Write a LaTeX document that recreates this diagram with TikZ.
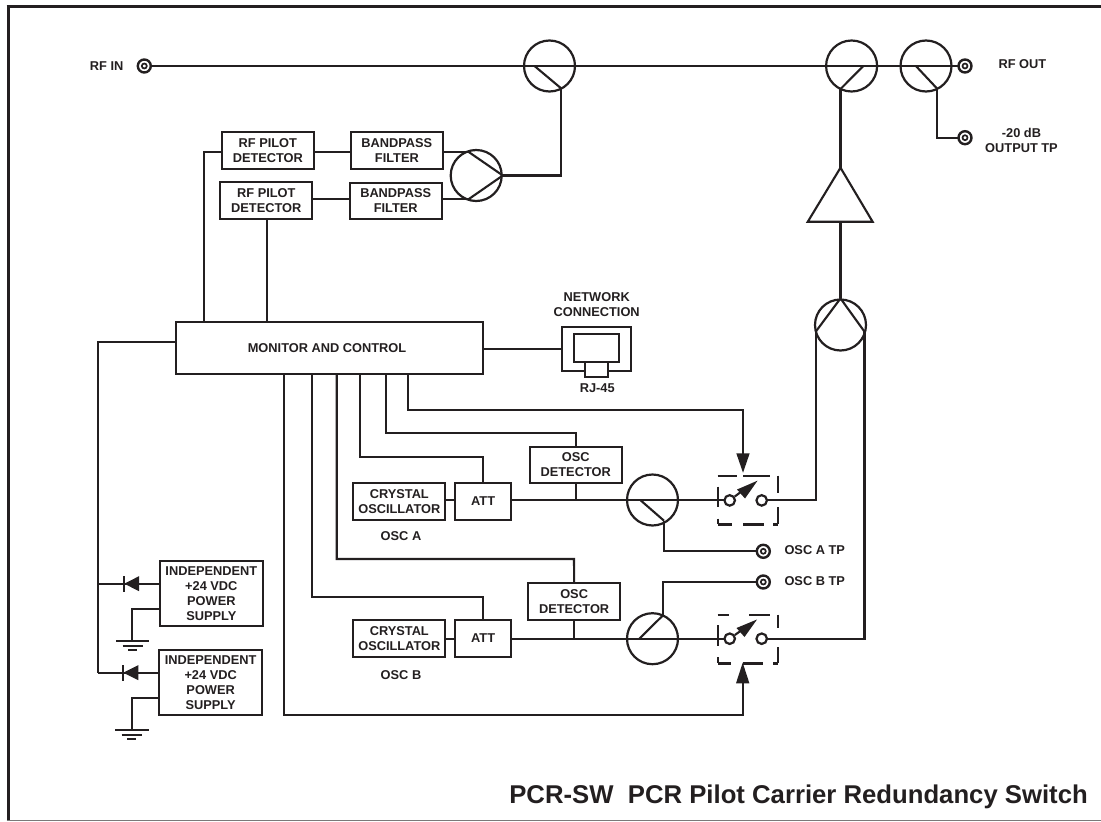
\documentclass[tikz,border=0pt]{standalone}
\usepackage{fontspec}
\setmainfont{Liberation Sans}
\tikzset{
  x=1pt,y=-1pt,
  wire/.style={line width=2.1pt,draw=ink,line join=miter},
  block/.style={draw=ink,line width=2.2pt,fill=white,inner sep=0pt,align=center,font=\fontsize{12.8}{15}\bfseries\selectfont,text=ink},
  lbl/.style={inner sep=0pt,align=center,font=\fontsize{12.8}{15}\bfseries\selectfont,text=ink},
  coupler/.style={circle,draw=ink,line width=2.2pt,minimum size=51pt,inner sep=0pt},
  port/.style={circle,draw=ink,line width=2.4pt,fill=white,minimum size=13pt,inner sep=0pt},
  portdot/.style={circle,draw=ink,line width=1.7pt,fill=white,minimum size=5pt,inner sep=0pt},
  contact/.style={circle,draw=ink,line width=2.2pt,fill=white,minimum size=10.5pt,inner sep=0pt},
  dashwire/.style={line width=2.4pt,draw=ink},
}
\definecolor{ink}{HTML}{231F20}
\newcommand{\rfport}[3]{\node[port] (#1) at (#2,#3) {};\node[portdot] at (#2,#3) {};}
\newcommand{\boxat}[6]{\node[block,minimum width=#4-#2,minimum height=#5-#3] (#1) at ({(#2+#4)/2},{(#3+#5)/2}) {#6};}
\begin{document}
\begin{tikzpicture}
\useasboundingbox (0,0) rectangle (1101,822);
\fill[white] (0,0) rectangle (1101,822);
\draw[ink,line width=3pt] (6.5,6.5) -- (1101,6.5);
\draw[ink,line width=3pt] (8,5) -- (8,821);
\draw[ink!60,line width=1.2pt] (6.5,820.8) -- (1101,820.8);

% couplers
\node[coupler] (c1) at (549.5,66) {};
\node[coupler] (c2) at (851.6,66) {};
\node[coupler] (c3) at (926,66) {};
\node[coupler] (c4) at (476.2,175.5) {};
\node[coupler] (c5) at (840.5,325) {};
\node[coupler] (ca) at (652.5,500) {};
\node[coupler] (cb) at (652.5,638.7) {};

% blocks
\boxat{p1}{222}{131.7}{313.7}{168.7}{RF PILOT\\DETECTOR}
\boxat{b1}{351}{131.7}{442.7}{168.7}{BANDPASS\\FILTER}
\boxat{p2}{220.3}{182.3}{312.3}{219.3}{RF PILOT\\DETECTOR}
\boxat{b2}{349.7}{182.6}{441.7}{219.3}{BANDPASS\\FILTER}
\boxat{mc}{176}{322}{483}{374}{\hspace{-5pt}MONITOR AND CONTROL}
\boxat{da}{529.7}{446.7}{621.7}{483}{OSC\\DETECTOR}
\boxat{db}{528.3}{583.3}{620}{620}{OSC\\DETECTOR}
\boxat{xa}{353.3}{482.7}{445.3}{520}{CRYSTAL\\OSCILLATOR}
\boxat{aa}{455}{482.7}{511.3}{520}{ATT}
\boxat{xb}{353.3}{620}{445.3}{657}{CRYSTAL\\OSCILLATOR}
\boxat{ab}{455}{620}{511.3}{657}{ATT}
\boxat{ps1}{159.7}{561}{263}{626.3}{INDEPENDENT\\+24 VDC\\POWER\\SUPPLY}
\boxat{ps2}{159}{650}{262.3}{715}{INDEPENDENT\\+24 VDC\\POWER\\SUPPLY}
\boxat{net}{562.3}{326.7}{630.7}{370.7}{}

% switch contacts
\coordinate (swa) at (729.7,500.4);
\coordinate (swb) at (729.7,638.7);

% RF path
\coordinate (rfs) at (144.3,66);
\coordinate (rfe) at (965,66);
\draw[wire] (rfs) -- (rfe);
\coordinate (c1d) at (561.3,88.5);
\coordinate (c2d) at (840.5,89);
\coordinate (c3d) at (937,88.5);
\draw[wire] (534.5,66) -- (c1d);
\draw[wire] (863.4,66) -- (c2d);
\draw[wire] (915.9,66) -- (c3d);
\coordinate (tp20c) at (965,137.7);
\draw[wire] (c3d) |- (tp20c);

% ports
\rfport{rfin}{144.3}{66}
\rfport{rfout}{965}{66}
\rfport{tp20}{965}{137.7}

% amplifier
\coordinate (ampt) at (840.5,167.7);
\coordinate (ampb) at (840.5,221.7);
\draw[wire,line join=miter] (ampt) -- (807.8,221.7) -- (872.6,221.7) -- cycle;
\draw[wire] (c2d) -- (ampt);
\draw[wire] (ampb) -- (c5.north);

% pilot combiner
\coordinate (c4e) at (c4.east);
\coordinate (c4a) at (468.3,151.7);
\coordinate (c4b) at (468.3,199.4);
\draw[wire] (c4a) -- (c4e) -- (c4b);
\draw[wire] (b1.east |- c4a) -- (c4a);
\draw[wire] (b2.east |- c4b) -- (c4b);
\draw[wire] (c4e) -| (c1d);
\draw[wire] (p1.east |- c4a) -- (b1.west |- c4a);
\draw[wire] (p2.east |- c4b) -- (b2.west |- c4b);
\draw[wire] (p1.west |- c4a) -| (204,322);
\draw[wire] (267,219.3) -- (267,322);

% network
\draw[wire] (mc.east |- net.west) -- (net.west);
\draw[line width=2.2pt,draw=ink,fill=white] (574,334.3) rectangle (619,362.3);
\draw[line width=2.2pt,draw=ink,fill=white] (585.3,362.3) rectangle (608,376.7);
\node[lbl] (nettxt) at (596.7,305) {NETWORK\\CONNECTION};
\node[lbl] (rjtxt) at (597.3,388) {RJ-45};

% oscillator A
\draw[wire] (xa.east |- swa) -- (aa.west |- swa);
\draw[wire] (aa.east |- swa) -- (swa);
\draw[wire] (da.south) -- (da.south |- swa);
\draw[wire] (640.7,500.4) -- (664,520.7);
\coordinate (tpac) at (763.3,551.3);
\draw[wire] (664,520.7) |- (tpac);
\draw[wire] (360,374) |- (483.3,457.3) -- (483.3,482.7);
\draw[wire] (385.7,374) |- (575.7,432.7) -- (da.north);
\node[lbl] (osca) at (401,535.7) {OSC A};
\node[lbl,anchor=west] (tpat) at (784.3,550.5) {OSC A TP};

% oscillator B
\draw[wire] (xb.east |- swb) -- (ab.west |- swb);
\draw[wire] (ab.east |- swb) -- (swb);
\draw[wire] (db.south) -- (db.south |- swb);
\draw[wire] (639.3,638.7) -- (663.3,615);
\coordinate (tpbc) at (763.3,582);
\draw[wire] (663.3,615) |- (tpbc);
\draw[wire] (336.7,374) |- (574,559) -- (db.north);
\draw[wire] (312.3,374) |- (483.3,596.7) -- (483.3,620);
\node[lbl] (oscb) at (401,675.5) {OSC B};
\node[lbl,anchor=west] (tpbt) at (784.3,581.5) {OSC B TP};
\rfport{tpa}{763.3}{551.3}
\rfport{tpb}{763.3}{582}

% switch A
\draw[wire] (761.7,500.4) -- (815.7,500.4) -- (815.7,331.7);
\draw[wire] (864.5,331.7) -- (864.5,638.7) -- (761.7,638.7);
\draw[wire] (c5.north) -- (815.7,331.7);
\draw[wire] (c5.north) -- (864.5,331.7);
\draw[dashwire] (717.7,475.7) -- (737,475.7) (743,475.7) -- (770,475.7);
\draw[dashwire] (777.7,475.7) -- (777.7,493) (777.7,507) -- (777.7,524.3);
\draw[dashwire] (717.7,524.3) -- (732,524.3) (743,524.3) -- (764,524.3) (773,524.3) -- (777.7,524.3);
\draw[dashwire] (717.7,486.7) -- (717.7,506.7) (717.7,518.5) -- (717.7,524.3);
\node[contact] (sa1) at (swa) {};
\node[contact] (sa2) at (761.7,500.4) {};
\draw[wire] (sa1) -- (746,488);
\fill[ink] (757.5,480.7) -- (737,489.5) -- (745,498.5) -- cycle;

% switch B
\draw[dashwire] (717.7,614.7) -- (729,614.7) (749,614.7) -- (770,614.7);
\draw[dashwire] (777.7,614.7) -- (777.7,628) (777.7,647) -- (777.7,663.3);
\draw[dashwire] (717.7,663.3) -- (731,663.3) (743,663.3) -- (763,663.3) (773,663.3) -- (777.7,663.3);
\draw[dashwire] (717.7,625) -- (717.7,646) (717.7,657) -- (717.7,663.3);
\node[contact] (sb1) at (swb) {};
\node[contact] (sb2) at (761.7,638.7) {};
\draw[wire] (sb1) -- (746,627);
\fill[ink] (757,619.5) -- (736.5,628) -- (744.5,637) -- cycle;

% control to switches
\draw[wire] (408.3,374) |- (743,409.7) -- (743,455);
\fill[ink] (743,472.7) -- (736.3,453.3) -- (749.7,453.3) -- cycle;
\draw[wire] (284.3,374) |- (742.7,714.7) -- (742.7,682);
\fill[ink] (742.7,662.7) -- (736,683.3) -- (749.4,683.3) -- cycle;

% power
\draw[wire] (176,342) -- (98.3,342) -- (98.3,672.7);
\draw[wire] (98.3,583.7) -- (159.7,583.7);
\draw[wire] (98.3,672.7) -- (159,672.7);
\fill[ink] (124.3,583.7) -- (139,576.2) -- (139,591.2) -- cycle;
\draw[wire] (124.3,576) -- (124.3,591.5);
\fill[ink] (123.3,672.7) -- (138.3,665.2) -- (138.3,680.2) -- cycle;
\draw[wire] (123.3,665) -- (123.3,680.5);
\draw[wire] (159.7,609) -| (132.3,640.7);
\draw[wire] (116,640.7) -- (149.3,640.7) (122.7,645.7) -- (142.7,645.7) (128,650.3) -- (137.3,650.3);
\draw[wire] (159,698) -| (131.7,729.7);
\draw[wire] (115,729.7) -- (148.5,729.7) (121.7,734.7) -- (141.7,734.7) (127,739.3) -- (136.3,739.3);

% texts
\node[lbl] (rfint) at (106.7,65.7) {RF IN};
\node[lbl] (rfoutt) at (1022.4,64.5) {RF OUT};
\node[lbl] (tp20t) at (1021.5,140) {-20 dB\\OUTPUT TP};
\node[inner sep=0pt,anchor=base east,text=ink,font=\fontsize{25.7}{28}\bfseries\selectfont] (title) at (1088,803.5) {PCR-SW\hspace{0.56em}PCR Pilot Carrier Redundancy Switch};
\end{tikzpicture}
\end{document}
